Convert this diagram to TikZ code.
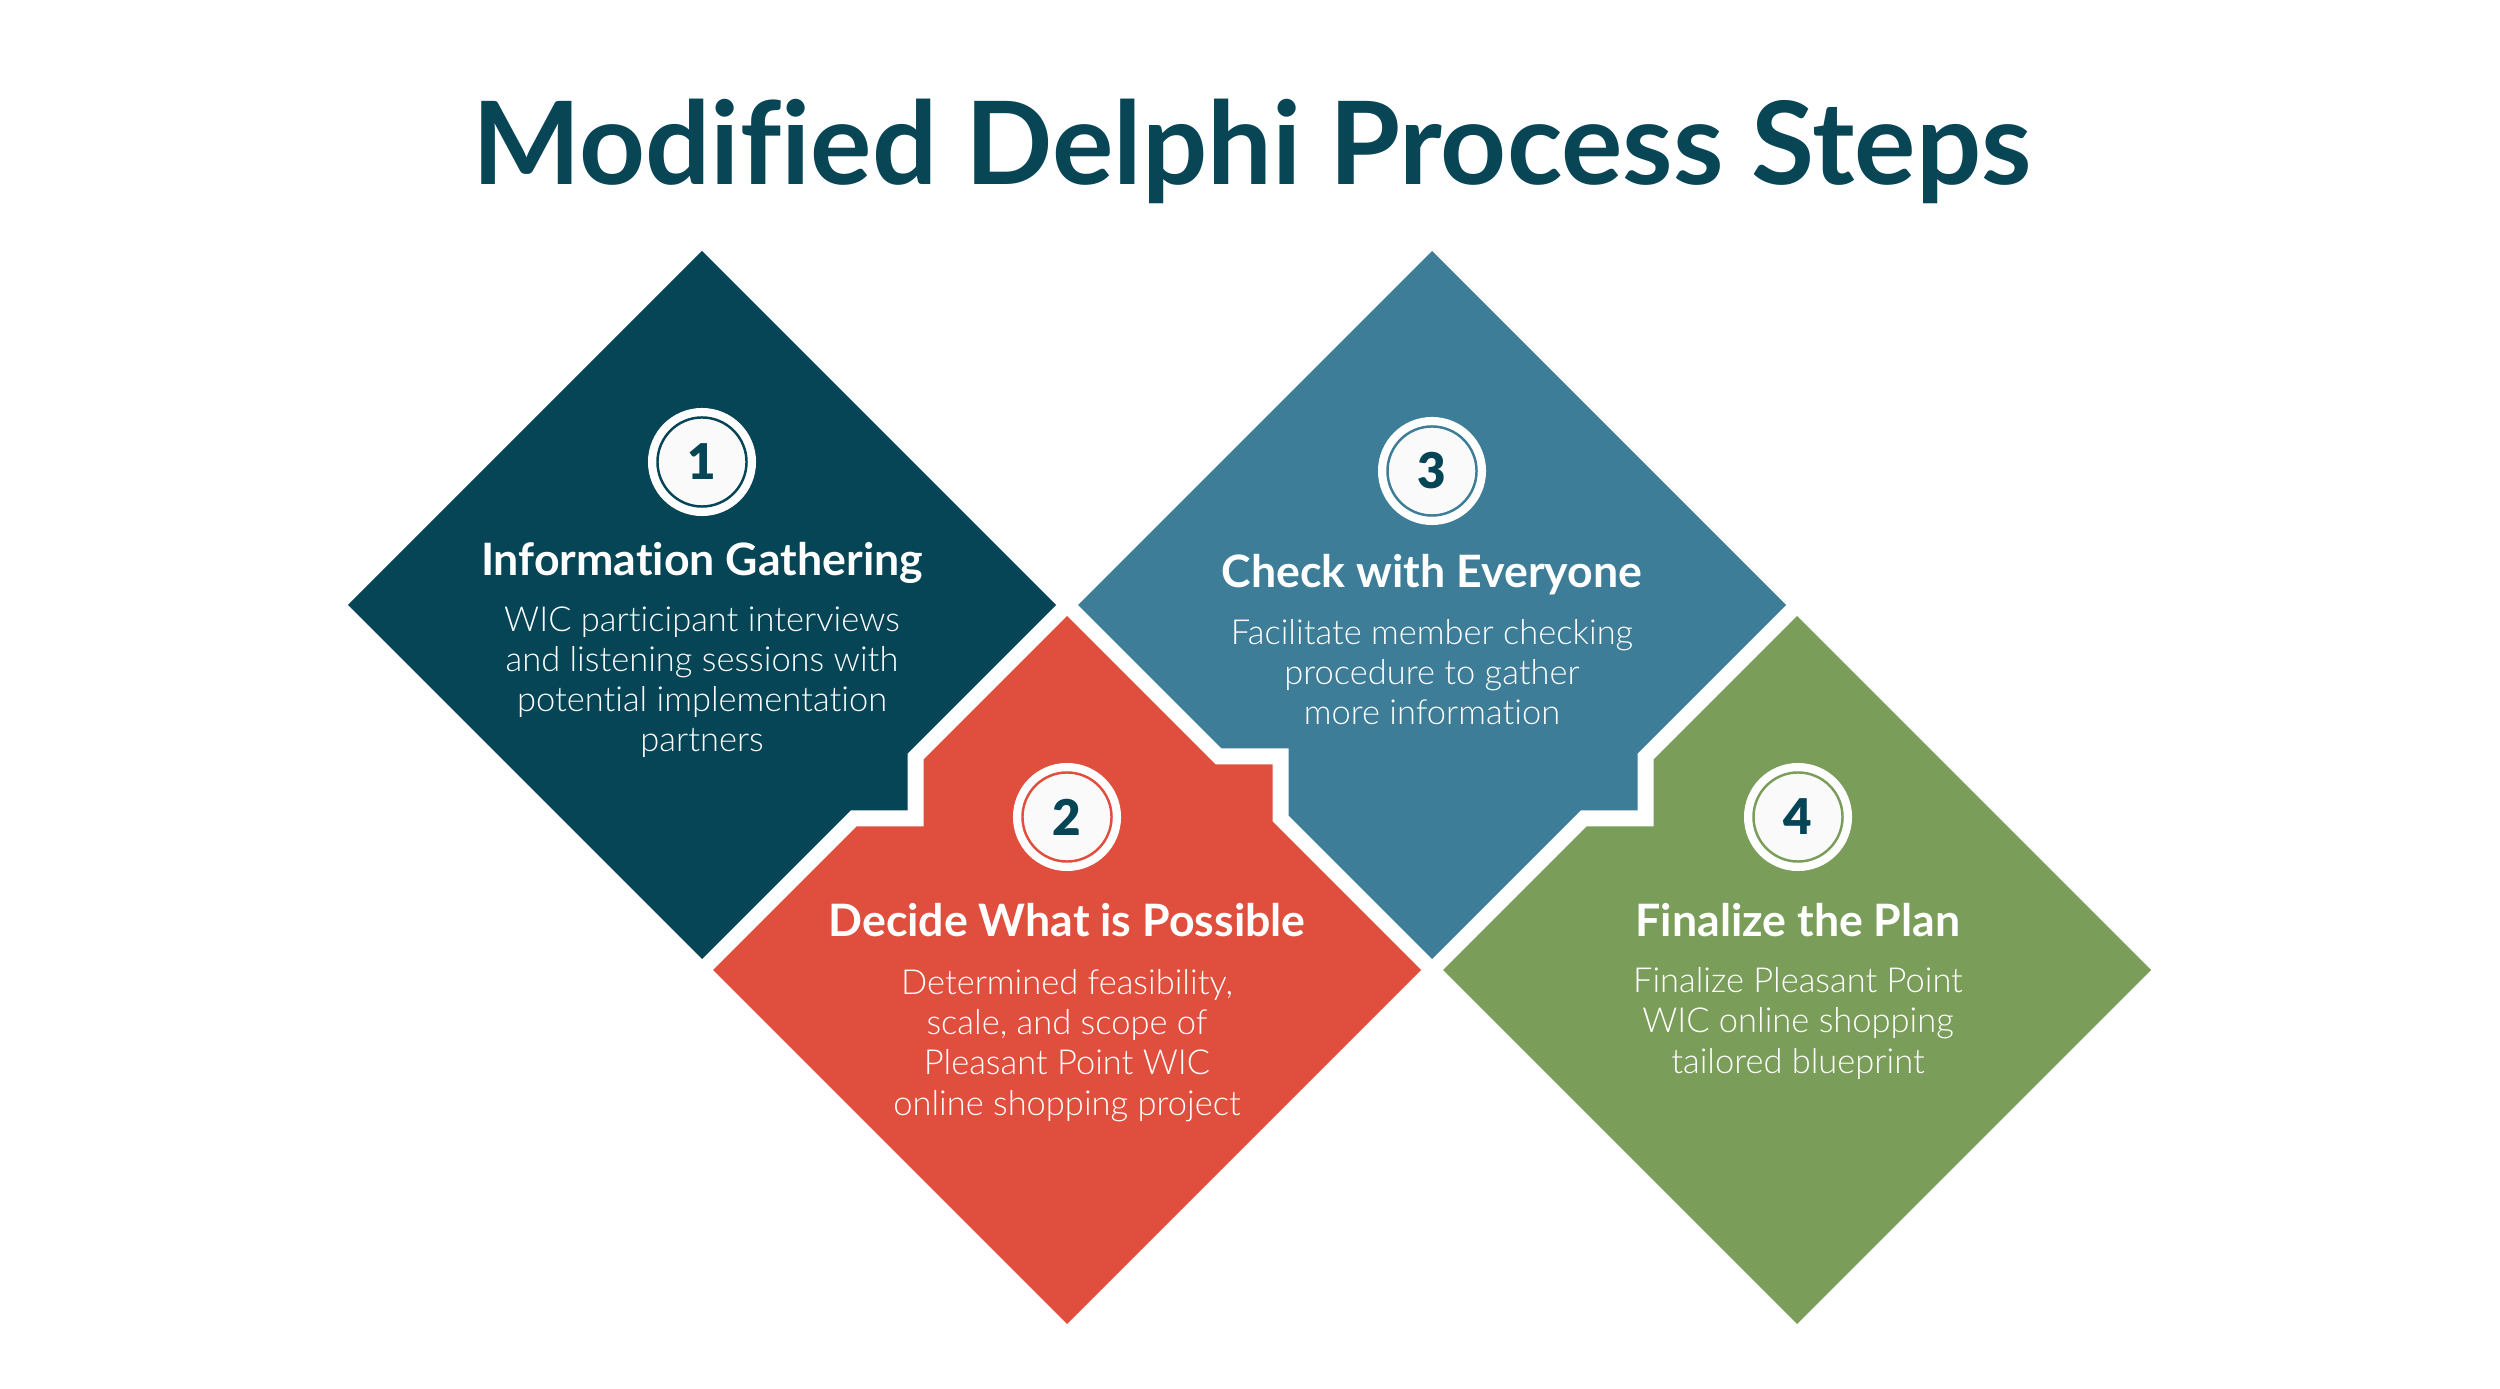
\documentclass[tikz,border=0pt]{standalone}
\usepackage{fontspec}
\setmainfont{Lato}[Ligatures=NoCommon]
\IfFontExistsTF{Lato Light}{\newfontfamily\bodyfont{Lato Light}[Ligatures=NoCommon]}{\newfontfamily\bodyfont{Lato}[Ligatures=NoCommon]}
\IfFontExistsTF{Lato Black}{\newfontfamily\numfont{Lato Black}}{\newfontfamily\numfont{Lato}[UprightFont=*-Bold]}
\definecolor{cOne}{HTML}{054555}
\definecolor{cTwo}{HTML}{E04F3D}
\definecolor{cThree}{HTML}{3D7D97}
\definecolor{cFour}{HTML}{7A9E59}
\definecolor{cTitle}{HTML}{084656}
\definecolor{offwhite}{HTML}{FAFAFA}
\tikzset{
  titletext/.style={font=\fontsize{32.7}{36}\selectfont\bfseries, text=cTitle, anchor=base, inner sep=0pt},
  headtext/.style={font=\fontsize{12.7}{14}\selectfont\bfseries, text=white, anchor=base, inner sep=0pt},
  bodytext/.style={font=\bodyfont\fontsize{9.8}{11.4}\selectfont, text=white, anchor=base, inner sep=0pt, align=center},
  numtext/.style={font=\numfont\fontsize{14}{16}\selectfont, text=cOne, inner sep=0pt},
  badgeouter/.style={circle, fill=white, minimum size=1.08cm, inner sep=0pt},
  badgeinner/.style={circle, fill=offwhite, draw=#1, line width=0.7pt, minimum size=0.89cm, inner sep=0pt},
}
\begin{document}
\begin{tikzpicture}[x=0.01cm, y=-0.01cm]
\useasboundingbox (0,0) rectangle (2500,1389);
\fill[white] (0,0) rectangle (2500,1389);

% diamonds
\fill[cOne] (702,251) -- (1056,605) -- (907.5,753.5) -- (907.5,810.5) -- (850.5,810.5) -- (702,959) -- (348,605) -- cycle;
\fill[cTwo] (1067,616) -- (1215.5,764.5) -- (1272.5,764.5) -- (1272.5,821.5) -- (1421,970) -- (1067,1324) -- (713,970) -- (856.5,826.5) -- (923.5,826.5) -- (923.5,759.5) -- cycle;
\fill[cThree] (1432,251) -- (1786,605) -- (1637.5,753.5) -- (1637.5,810.5) -- (1580.5,810.5) -- (1432,959) -- (1288.5,815.5) -- (1288.5,748.5) -- (1221.5,748.5) -- (1078,605) -- cycle;
\fill[cFour] (1797,616) -- (2151,970) -- (1797,1324) -- (1443,970) -- (1586.5,826.5) -- (1653.5,826.5) -- (1653.5,759.5) -- cycle;

% title
\node[titletext] (title) at (1252,185) {Modified Delphi Process Steps};

% step 1 (body anchored at the baseline of its last line)
\node[badgeouter] (b1o) at (702,462) {};
\node[badgeinner=cOne] (b1) at (702,462) {};
\node[numtext] (n1) at (702,462) {1};
\node[headtext] (h1) at (702,576) {Information Gathering};
\node[bodytext] (t1) at (702,752) {WIC participant interviews\\and listening sessions with\\potential implementation\\partners};

% step 2
\node[badgeouter] (b2o) at (1067,817) {};
\node[badgeinner=cTwo] (b2) at (1067,817) {};
\node[numtext] (n2) at (1067,817) {2};
\node[headtext] (h2) at (1067,937) {Decide What is Possible};
\node[bodytext] (t2) at (1067,1115) {Determined feasibility,\\scale, and scope of\\Pleasant Point WIC\\online shopping project};

% step 3
\node[badgeouter] (b3o) at (1432,471) {};
\node[badgeinner=cThree] (b3) at (1432,471) {};
\node[numtext] (n3) at (1432,471) {3};
\node[headtext] (h3) at (1432,588) {Check with Everyone};
\node[bodytext] (t3) at (1432,725) {Facilitate member checking\\procedure to gather\\more information};

% step 4
\node[badgeouter] (b4o) at (1798,817) {};
\node[badgeinner=cFour] (b4) at (1798,817) {};
\node[numtext] (n4) at (1798,817) {4};
\node[headtext] (h4) at (1798,937) {Finalize the Plan};
\node[bodytext] (t4) at (1798,1073) {Finalize Pleasant Point\\WIC online shopping\\tailored blueprint};
\end{tikzpicture}
\end{document}
